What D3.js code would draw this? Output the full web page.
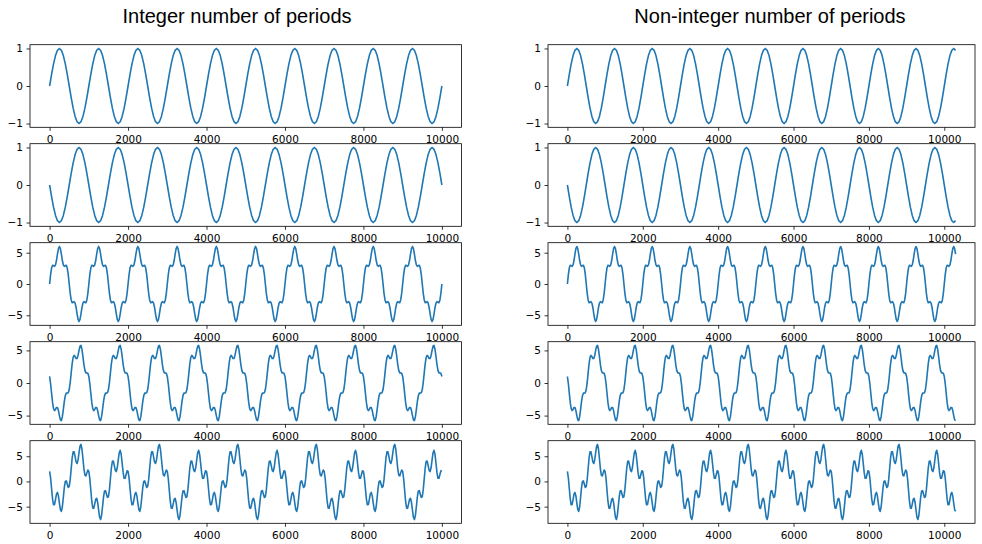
<!DOCTYPE html>
<html>
<head>
<meta charset="utf-8">
<script src="https://cdn.jsdelivr.net/npm/d3@7"></script>
<style>
  body { margin: 0; background: #fff; }
</style>
</head>
<body>
<div id="chart"></div>
<script>
/* globals d3 */
// one period of every signal (sample spacing in x units)
const step_sine = 50;
const step_mix = 25;
const cycle_row1 = [0, 0.31, 0.59, 0.81, 0.95, 1, 0.95, 0.81, 0.59, 0.31,
  0, -0.31, -0.59, -0.81, -0.95, -1, -0.95, -0.81, -0.59, -0.31];
const cycle_row2 = [0, -0.31, -0.59, -0.81, -0.95, -1, -0.95, -0.81, -0.59, -0.31,
  0, 0.31, 0.59, 0.81, 0.95, 1, 0.95, 0.81, 0.59, 0.31];
const cycle_row3 = [0, 1.49, 2.55, 2.98, 2.94, 2.83, 3.05, 3.75, 4.76, 5.65,
  6, 5.65, 4.76, 3.75, 3.05, 2.83, 2.94, 2.98, 2.55, 1.49,
  0, -1.49, -2.55, -2.98, -2.94, -2.83, -3.05, -3.75, -4.76, -5.65,
  -6, -5.65, -4.76, -3.75, -3.05, -2.83, -2.94, -2.98, -2.55, -1.49];
const cycle_row4 = [1, -0.08, -1.55, -2.98, -3.94, -4.24, -4.05, -3.75, -3.76, -4.23,
  -5, -5.65, -5.76, -5.16, -4.05, -2.83, -1.94, -1.56, -1.55, -1.49,
  -1, 0.08, 1.55, 2.98, 3.94, 4.24, 4.05, 3.75, 3.76, 4.23,
  5, 5.65, 5.76, 5.16, 4.05, 2.83, 1.94, 1.56, 1.55, 1.49];
// this one repeats every 2000
const cycle_row5 = [2, 0.71, -1.39, -3.45, -4.63, -4.57, -3.59, -2.52, -2.17, -2.87,
  -4.29, -5.59, -5.95, -5.02, -3.15, -1.2, 0.01, 0.12, -0.56, -1.2,
  -1, 0.36, 2.53, 4.66, 5.89, 5.87, 4.94, 3.89, 3.56, 4.28,
  5.71, 7, 7.34, 6.39, 4.5, 2.5, 1.25, 1.09, 1.7, 2.27,
  2, 0.55, -1.7, -3.92, -5.25, -5.33, -4.5, -3.56, -3.34, -4.17,
  -5.71, -7.11, -7.56, -6.72, -4.94, -3.05, -1.89, -1.83, -2.53, -3.19,
  -3, -1.63, 0.56, 2.71, 3.99, 4.03, 3.15, 2.19, 1.95, 2.76,
  4.29, 5.7, 6.17, 5.35, 3.59, 1.74, 0.63, 0.62, 1.39, 2.12];

const row_cycles = [cycle_row1, cycle_row2, cycle_row3, cycle_row4, cycle_row5];
const row_steps = [step_sine, step_sine, step_mix, step_mix, step_mix];
const signal_lengths = [10000, 10300];
const col_titles = ["Integer number of periods", "Non-integer number of periods"];
const x_ticks = [0, 2000, 4000, 6000, 8000, 10000];
const y_ticks = [[-1, 0, 1], [-1, 0, 1], [-5, 0, 5], [-5, 0, 5], [-5, 0, 5]];

const width = 982;
const height = 544;
const col_left = [30, 548];
const col_right = [461.5, 975];
const title_x = [237, 770];
const row_top = 44.7;
const row_step = 99;
const row_height = 82.6;
const line_color = "#1f77b4";

const svg = d3
  .select("#chart")
  .append("svg")
  .attr("width", width)
  .attr("height", height);

function buildSeries(cycle, step, length) {
  const pts = [];
  for (let i = 0; i * step <= length; i++) {
    pts.push([i * step, cycle[i % cycle.length]]);
  }
  return pts;
}

col_titles.forEach(function (title, c) {
  svg
    .append("text")
    .attr("x", title_x[c])
    .attr("y", 22.7)
    .attr("text-anchor", "middle")
    .attr("font-family", "Liberation Sans, Arial, sans-serif")
    .attr("font-size", 20)
    .attr("fill", "#000")
    .text(title);
});

for (let c = 0; c < 2; c++) {
  for (let r = 0; r < 5; r++) {
    const data = buildSeries(row_cycles[r], row_steps[r], signal_lengths[c]);
    const top = row_top + r * row_step;
    const bottom = top + row_height;

    const xPad = signal_lengths[c] * 0.05;
    const x = d3
      .scaleLinear()
      .domain([-xPad, signal_lengths[c] + xPad])
      .range([col_left[c], col_right[c]]);

    const [ymin, ymax] = d3.extent(data, (d) => d[1]);
    const yPad = (ymax - ymin) * 0.05;
    const y = d3
      .scaleLinear()
      .domain([ymin - yPad, ymax + yPad])
      .range([bottom, top]);

    const line = d3
      .line()
      .x((d) => x(d[0]))
      .y((d) => y(d[1]));

    svg
      .append("path")
      .datum(data)
      .attr("fill", "none")
      .attr("stroke", line_color)
      .attr("stroke-width", 1.6)
      .attr("stroke-linejoin", "round")
      .attr("stroke-linecap", "butt")
      .attr("d", line);

    const gx = svg
      .append("g")
      .attr("transform", `translate(0,${bottom})`)
      .call(
        d3
          .axisBottom(x)
          .tickValues(x_ticks)
          .tickFormat(d3.format("d"))
          .tickSize(3.5)
          .tickPadding(4.5)
      );
    gx.select(".domain").remove();

    const gy = svg
      .append("g")
      .attr("transform", `translate(${col_left[c]},0)`)
      .call(
        d3
          .axisLeft(y)
          .tickValues(y_ticks[r])
          .tickFormat(d3.format("d"))
          .tickSize(3.5)
          .tickPadding(3.5)
      );
    gy.select(".domain").remove();

    [gx, gy].forEach(function (g) {
      g.attr("color", "#000")
        .attr("font-family", "DejaVu Sans, sans-serif")
        .attr("font-size", 10.5);
      g.selectAll(".tick line").attr("stroke-width", 0.8);
    });

    svg
      .append("rect")
      .attr("x", col_left[c])
      .attr("y", top)
      .attr("width", col_right[c] - col_left[c])
      .attr("height", row_height)
      .attr("fill", "none")
      .attr("stroke", "#000")
      .attr("stroke-width", 0.8);
  }
}
</script>
</body>
</html>
